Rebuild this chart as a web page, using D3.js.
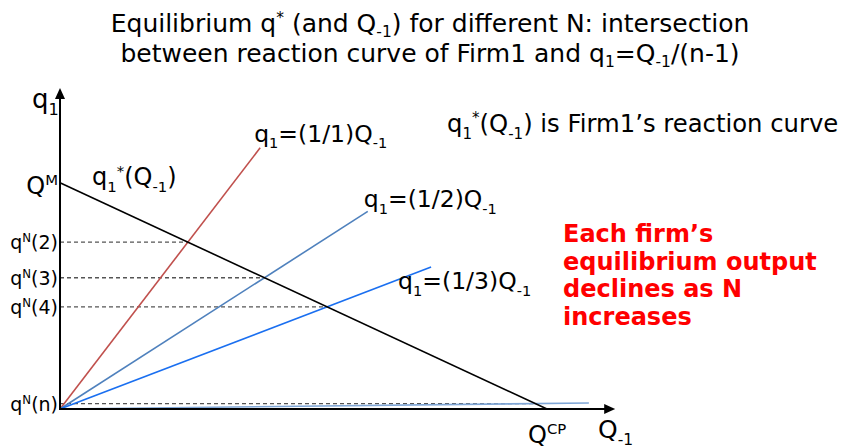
<!DOCTYPE html>
<html>
<head>
<meta charset="utf-8">
<script src="https://cdn.jsdelivr.net/npm/d3@7"></script>
<style>
  body { margin: 0; background: #fff; }
  text { font-family: "DejaVu Sans", Verdana, sans-serif; fill: #000; }
</style>
</head>
<body>
<script>
// Reaction curve end points (Q_-1 = 0 -> Q^M, q1 = 0 -> Q^CP)
var QM = 0.356, QCP = 1;

var rayNames = ["q_{1}=(1/1)Q_{-1}", "q_{1}=(1/2)Q_{-1}", "q_{1}=(1/3)Q_{-1}", ""];
var raySlopes = [1, 0.492, 0.293, 0.0087];
var rayEnds = [0.411, 0.632, 0.762, 1.086];
var eqNames = ["q^{N}(2)", "q^{N}(3)", "q^{N}(4)", "q^{N}(n)"];

var rayColors = ["#c0504d", "#4f81bd", "#1a6ff0", "#7fa6d6"];

var width = 845, height = 448;

var svg = d3.select("body").append("svg")
    .attr("width", width)
    .attr("height", height);

var x = d3.scaleLinear().domain([0, 1]).range([60, 547]);
var y = d3.scaleLinear().domain([0, 1]).range([409, 409 - 635.5]);

// write "a_{sub}b^{sup}" as tspans
function rich(sel, str, size, sub) {
    sub = sub || 0.28;
    var parts = str.split(/(_\{[^}]*\}|\^\{[^}]*\})/).filter(function(p) { return p.length; });
    var shift = 0;
    parts.forEach(function(p) {
        var t = sel.append("tspan");
        var want = 0;
        if (p[0] == "_") { want = size * sub; p = p.slice(2, -1); t.style("font-size", (size * 0.62) + "px"); }
        else if (p[0] == "^") { want = -size * 0.36; p = p.slice(2, -1); t.style("font-size", (size * 0.62) + "px"); }
        t.attr("dy", want - shift).text(p);
        shift = want;
    });
}

// title
var title = ["Equilibrium q^{*} (and Q_{-1}) for different N: intersection",
             "between reaction curve of Firm1 and q_{1}=Q_{-1}/(n-1)"];
title.forEach(function(t, i) {
    var tx = svg.append("text")
        .attr("x", 430).attr("y", 32 + i * 30)
        .attr("text-anchor", "middle")
        .style("font-size", "25px");
    rich(tx, t, 25, 0.18);
});

// dashed guides to each equilibrium
var eq = raySlopes.map(function(s) {
    var Q = QM / (s + QM / QCP);
    return { Q: Q, q: s * Q };
});

svg.selectAll(".guide")
    .data(eq)
    .enter().append("line")
    .attr("x1", x(0)).attr("x2", function(d) { return x(d.Q); })
    .attr("y1", function(d) { return y(d.q); })
    .attr("y2", function(d) { return y(d.q); })
    .attr("stroke", "#555")
    .attr("stroke-width", 1.3)
    .attr("stroke-dasharray", "4,3");

// rays
svg.selectAll(".ray")
    .data(raySlopes)
    .enter().append("line")
    .attr("x1", x(0)).attr("y1", y(0))
    .attr("x2", function(d, i) { return x(rayEnds[i]); })
    .attr("y2", function(d, i) { return y(d * rayEnds[i]); })
    .attr("stroke", function(d, i) { return rayColors[i]; })
    .attr("stroke-width", 1.6);

// reaction curve
svg.append("line")
    .attr("x1", x(0)).attr("y1", y(QM))
    .attr("x2", x(QCP)).attr("y2", y(0))
    .attr("stroke", "#000")
    .attr("stroke-width", 1.6);

// axes with arrows
var xTop = 1.14, yTop = 0.505;
svg.append("line")
    .attr("x1", x(0)).attr("y1", y(0)).attr("x2", x(xTop) - 8).attr("y2", y(0))
    .attr("stroke", "#000").attr("stroke-width", 2);
svg.append("line")
    .attr("x1", x(0)).attr("y1", y(0) + 1).attr("x2", x(0)).attr("y2", y(yTop) + 8)
    .attr("stroke", "#000").attr("stroke-width", 2);
svg.append("path")
    .attr("d", "M" + x(xTop) + "," + y(0) + "l-11,-5l0,10z");
svg.append("path")
    .attr("d", "M" + x(0) + "," + y(yTop) + "l-5,11l10,0z");

// ray labels
var rayLab = [[-6, -6], [-4, -4], [-33, 22]];
rayNames.forEach(function(n, i) {
    if (!n) return;
    var t = svg.append("text")
        .attr("x", x(rayEnds[i]) + rayLab[i][0])
        .attr("y", y(raySlopes[i] * rayEnds[i]) + rayLab[i][1])
        .style("font-size", "23.5px");
    rich(t, n, 23.5);
});

// equilibrium labels on the q1 axis
eqNames.forEach(function(n, i) {
    var t = svg.append("text")
        .attr("x", x(0) - 2)
        .attr("y", y(eq[i].q) + 7)
        .attr("text-anchor", "end")
        .style("font-size", "19px");
    rich(t, n, 19);
});

var t;
t = svg.append("text").attr("x", x(0) - 2).attr("y", y(QM) + 11)
    .attr("text-anchor", "end").style("font-size", "24px");
rich(t, "Q^{M}", 24);

t = svg.append("text").attr("x", 32).attr("y", 108).style("font-size", "26px");
rich(t, "q_{1}", 26);

t = svg.append("text").attr("x", 92).attr("y", 185).style("font-size", "24px");
rich(t, "q_{1}^{*}(Q_{-1})", 24);

t = svg.append("text").attr("x", 447).attr("y", 132).style("font-size", "24.3px");
rich(t, "q_{1}^{*}(Q_{-1}) is Firm1\u2019s reaction curve", 24.3);

t = svg.append("text").attr("x", x(QCP) - 19).attr("y", 443).style("font-size", "24px");
rich(t, "Q^{CP}", 24);

t = svg.append("text").attr("x", 598).attr("y", 438).style("font-size", "25px");
rich(t, "Q_{-1}", 25);

// note in red
var note = ["Each firm\u2019s", "equilibrium output", "declines as N", "increases"];
svg.selectAll(".note")
    .data(note)
    .enter().append("text")
    .attr("x", 563)
    .attr("y", function(d, i) { return 242 + i * 27.7; })
    .style("font-size", "24px")
    .style("font-weight", "bold")
    .style("fill", "#ff0000")
    .text(function(d) { return d; });
</script>
</body>
</html>
